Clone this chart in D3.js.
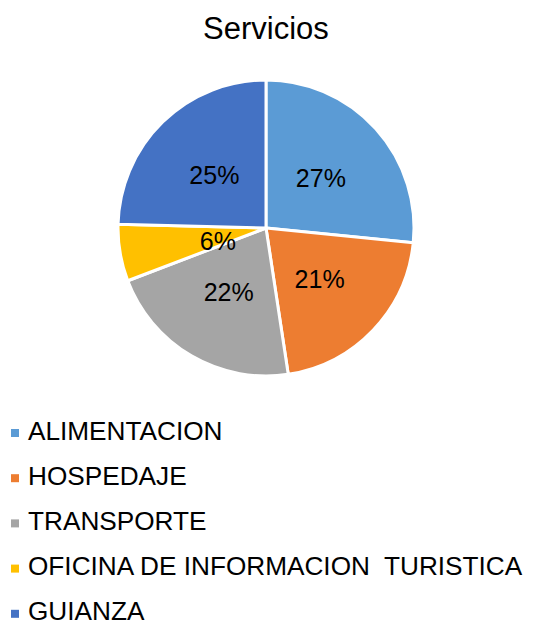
<!DOCTYPE html>
<html><head><meta charset="utf-8">
<script src="https://cdn.jsdelivr.net/npm/d3@7"></script>
<style>body{margin:0;background:#fff}svg{display:block}text{font-family:"Liberation Sans",Arial,sans-serif}</style>
</head><body>
<script>
const title = "Servicios";
const categories = ["ALIMENTACION","HOSPEDAJE","TRANSPORTE","OFICINA DE INFORMACION  TURISTICA","GUIANZA"];
const values = [26.6, 21.0, 21.6, 6.2, 24.6];
const colors = ["#5B9BD5","#ED7D31","#A5A5A5","#FFC000","#4472C4"];

const W = 536, H = 620;
const svg = d3.select("body").append("svg").attr("width", W).attr("height", H);
const cx = 266, cy = 228, r = 148;

svg.append("text").attr("x", 266).attr("y", 39).attr("text-anchor","middle")
  .attr("font-size", 31).attr("fill","#000").text(title);

const total = d3.sum(values);
const pie = d3.pie().sort(null).value(d => d)(values);
const arc = d3.arc().innerRadius(0).outerRadius(r);
const g = svg.append("g").attr("transform", `translate(${cx},${cy})`);
g.selectAll("path").data(pie).join("path")
  .attr("d", arc).attr("fill", (d,i) => colors[i])
  .attr("stroke","#fff").attr("stroke-width", 3).attr("stroke-linejoin","round");

g.selectAll("text.lbl").data(pie).join("text").attr("class","lbl")
  .attr("transform", d => {
    const small = (d.endAngle - d.startAngle) < 0.5;
    const lr = small ? r*0.33 : r*0.5;
    const a = (d.startAngle + d.endAngle)/2;
    return `translate(${Math.sin(a)*lr},${-Math.cos(a)*lr + (small ? 5 : 0)})`;
  })
  .attr("text-anchor","middle").attr("dy","0.35em")
  .attr("font-size", 25).attr("fill","#000")
  .text(d => Math.round(d.value/total*100) + "%");

const leg = svg.append("g");
const rows = leg.selectAll("g").data(categories).join("g")
  .attr("transform", (d,i) => `translate(0,${439.5 + i*45.2})`);
rows.append("rect").attr("x", 11).attr("y", -10.5).attr("width", 8).attr("height", 8)
  .attr("fill", (d,i) => colors[i]);
rows.append("text").attr("x", 28).attr("y", 0).attr("font-size", 26.2)
  .attr("fill","#000").style("white-space","pre").text(d => d);
</script>
</body></html>
